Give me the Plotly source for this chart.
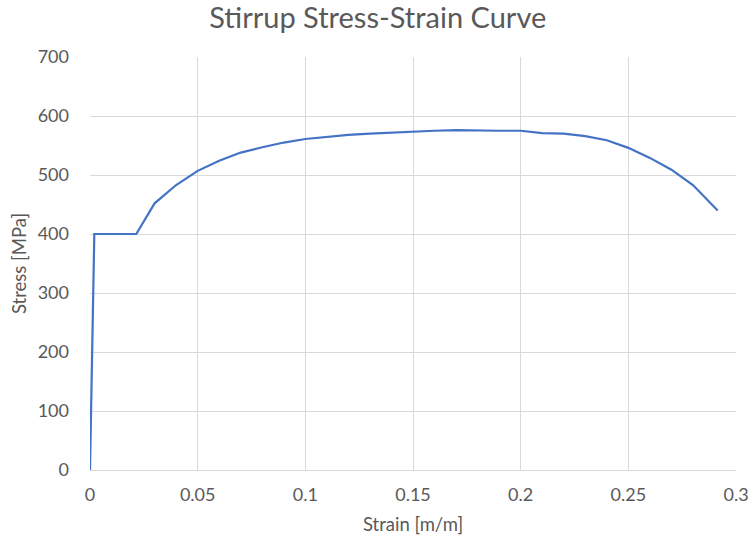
import plotly.graph_objects as go

# Stirrup steel test data: strain [m/m] vs stress [MPa]
strain = [0, 0.002, 0.0215, 0.03, 0.04, 0.05, 0.06, 0.07, 0.08, 0.09, 0.10,
          0.11, 0.12, 0.13, 0.14, 0.15, 0.16, 0.17, 0.18, 0.19, 0.20,
          0.21, 0.22, 0.23, 0.24, 0.25, 0.26, 0.27, 0.28, 0.2915]
stress = [0, 400, 400, 452, 483, 507, 524, 538, 547, 555, 561,
          565, 568, 570, 572, 574, 575, 576, 575, 575, 575,
          571, 570, 566, 559, 546, 529, 509, 483, 440]

x_ticks = [0, 0.05, 0.1, 0.15, 0.2, 0.25, 0.3]
x_tick_text = ["0", "0.05", "0.1", "0.15", "0.2", "0.25", "0.3"]
y_ticks = [0, 100, 200, 300, 400, 500, 600, 700]

FONT = "Lato, 'Open Sans', sans-serif"
GREY = "#595959"

fig = go.Figure(go.Scatter(
    x=strain, y=stress, mode="lines",
    line=dict(color="#4472C4", width=2.2),
    showlegend=False,
))

fig.update_layout(
    width=751, height=544,
    margin=dict(l=90, r=15, t=57, b=74),
    paper_bgcolor="white", plot_bgcolor="white",
    font=dict(family=FONT, color=GREY),
    title=dict(text="Stirrup Stress-Strain Curve", x=0.503, xanchor="center",
               y=0.967, yanchor="middle",
               font=dict(size=29, family=FONT, color=GREY)),
    xaxis=dict(
        range=[0, 0.3], tickvals=x_ticks, ticktext=x_tick_text,
        automargin=False,
        showgrid=True, gridcolor="#d9d9d9", gridwidth=1,
        zeroline=False, showline=True, linecolor="#d9d9d9", linewidth=1,
        ticks="", tickfont=dict(size=18, color=GREY), ticklabelstandoff=8,
        title=dict(text="Strain [m/m]", font=dict(size=18.5, color=GREY), standoff=14),
    ),
    yaxis=dict(
        range=[0, 700], tickvals=y_ticks,
        automargin=True,
        showgrid=True, gridcolor="#d9d9d9", gridwidth=1,
        zeroline=False, showline=False,
        ticks="", tickfont=dict(size=18, color=GREY), ticklabelstandoff=20,
        title=dict(text="Stress [MPa]", font=dict(size=18.5, color=GREY), standoff=6),
    ),
)

fig.write_html("out.html")
